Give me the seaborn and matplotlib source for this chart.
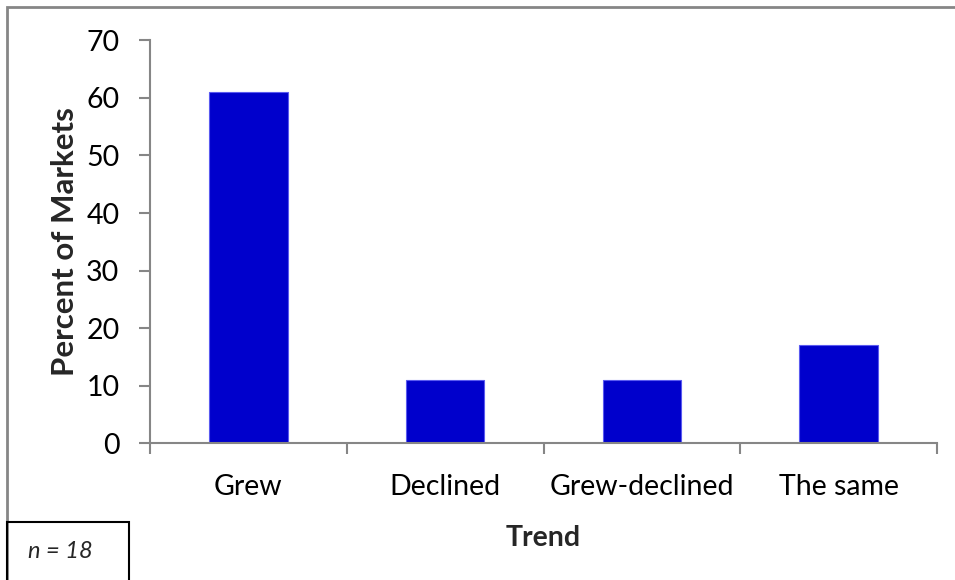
import matplotlib
matplotlib.use("Agg")
import matplotlib.pyplot as plt
from matplotlib.patches import Rectangle
import seaborn as sns
import pandas as pd

# Share of the 18 markets by trend
trends = ["Grew", "Declined", "Grew-declined", "The same"]
percent = [61, 11, 11, 17]
y_ticks = [0, 10, 20, 30, 40, 50, 60, 70]

sns.set_theme(style="white")
plt.rcParams["font.family"] = ["Lato", "DejaVu Sans"]

W, H = 955, 580
fig = plt.figure(figsize=(W / 100, H / 100), dpi=100)
fig.patch.set_facecolor("white")

ax = fig.add_axes([150 / W, 1 - 443.3 / H, (937 - 150) / W, (443.3 - 40.3) / H])

df = pd.DataFrame({"Trend": trends, "Percent": percent})
sns.barplot(data=df, x="Trend", y="Percent", color="#0000CC", width=0.4,
            edgecolor="#5A5AF0", linewidth=0.8, saturation=1, ax=ax)

grey = "#868686"
ax.set_ylim(0, 70)
ax.set_xlim(-0.5, len(trends) - 0.5)
ax.set_yticks(y_ticks)
ax.set_yticklabels([str(t) for t in y_ticks], fontsize=20.5, color="black")

# category boundaries carry the tick marks, names sit between them
ax.set_xticks([i - 0.5 for i in range(len(trends) + 1)])
ax.set_xticklabels([""] * (len(trends) + 1))
ax.set_xticks(range(len(trends)), minor=True)
ax.set_xticklabels(trends, minor=True, fontsize=20.5, color="black")
ax.tick_params(axis="x", which="major", direction="out", length=8, width=1.5,
               color=grey, bottom=True)
ax.tick_params(axis="x", which="minor", length=0, pad=22)
ax.tick_params(axis="y", direction="out", length=8, width=1.5, color=grey,
               left=True, pad=14)

for side in ["top", "right"]:
    ax.spines[side].set_visible(False)
for side in ["left", "bottom"]:
    ax.spines[side].set_color(grey)
    ax.spines[side].set_linewidth(1.5)

ax.set_xlabel("Trend", fontsize=20.5, fontweight="bold", labelpad=18)
ax.set_ylabel("Percent of Markets", fontsize=22.5, fontweight="bold", labelpad=5)
ax.grid(False)

# outer chart frame
fig.add_artist(Rectangle((7 / W, -0.5), 2, 1.5 - 7 / H, transform=fig.transFigure,
                         fill=False, edgecolor=grey, linewidth=2))

# sample size note box
fig.add_artist(Rectangle((7 / W, -0.1), (129 - 7) / W, 0.1 + (H - 521.7) / H,
                         transform=fig.transFigure, fill=False,
                         edgecolor="black", linewidth=1.5))
fig.text(28 / W, 1 - 551 / H, "n = 18", fontsize=17, style="italic",
         ha="left", va="center")

fig.savefig("out.png", dpi=100)
